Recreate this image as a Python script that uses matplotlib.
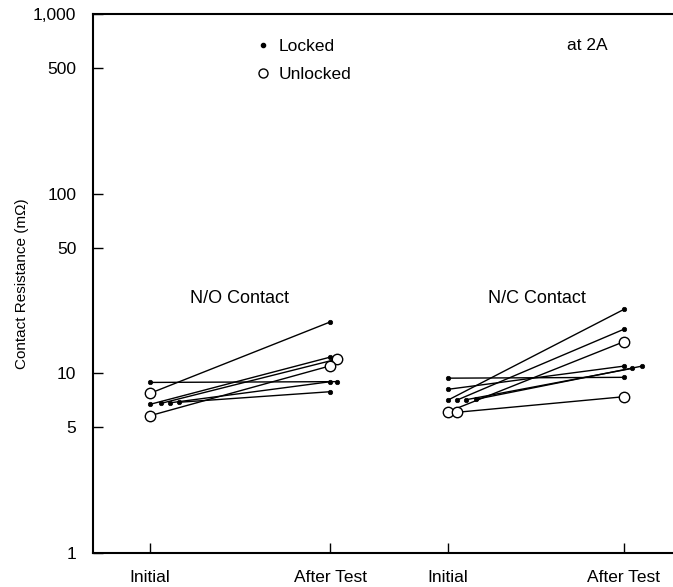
import matplotlib
matplotlib.use("Agg")
import matplotlib.pyplot as plt
from matplotlib.lines import Line2D
from matplotlib.ticker import FixedLocator, FixedFormatter, NullLocator

plt.rcParams['font.family'] = ['Liberation Sans', 'DejaVu Sans']

# x positions of the four columns (Initial / After Test for each contact)
col_pos = [0.0, 1.0, 1.656, 2.633]
col_labels = ['Initial', 'After Test', 'Initial', 'After Test']

# N/O contact: initial -> after test (mOhm), marker kind per end ('f' locked, 'o' unlocked)
no_initial = [8.9, 7.74, 6.72, 6.8, 6.85, 6.9, 5.81]
no_init_kind = ['f', 'o', 'f', 'f', 'f', 'f', 'o']
no_init_jit = [0.0, 0.0, 0.0, 0.06, 0.11, 0.16, 0.0]
no_after = [8.99, 19.3, 12.3, 12.0, 8.98, 7.9, 11.0]
no_after_kind = ['f', 'f', 'f', 'o', 'f', 'f', 'o']
no_after_jit = [0.04, 0.0, 0.0, 0.04, 0.0, 0.0, 0.0]

# N/C contact
nc_initial = [9.4, 8.15, 7.1, 7.1, 7.13, 7.17, 6.11, 6.07]
nc_init_kind = ['f', 'f', 'f', 'f', 'f', 'f', 'o', 'o']
nc_init_jit = [0.0, 0.0, 0.0, 0.05, 0.1, 0.155, 0.0, 0.05]
nc_after = [9.5, 10.97, 22.7, 17.6, 10.65, 10.97, 15.0, 7.41]
nc_after_kind = ['f', 'f', 'f', 'f', 'f', 'f', 'o', 'o']
nc_after_jit = [0.0, 0.0, 0.0, 0.0, 0.045, 0.1, 0.0, 0.0]

y_ticks = [1, 5, 10, 50, 100, 500, 1000]
y_labels = ['1', '5', '10', '50', '100', '500', '1,000']


def marker_style(kind):
    if kind == 'o':
        return dict(marker='o', markersize=7.5, markerfacecolor='white',
                    markeredgecolor='black', markeredgewidth=1.0)
    return dict(marker='o', markersize=3.2, markerfacecolor='black',
                markeredgecolor='black', markeredgewidth=0.5)


def draw_group(ax, x0, x1, y0, k0, j0, y1, k1, j1):
    for a, ja, b, jb in zip(y0, j0, y1, j1):
        ax.plot([x0 + ja, x1 + jb], [a, b], color='black', lw=1.0, zorder=2)
    for a, ka, ja in zip(y0, k0, j0):
        ax.plot([x0 + ja], [a], linestyle='none', zorder=3, **marker_style(ka))
    for b, kb, jb in zip(y1, k1, j1):
        ax.plot([x1 + jb], [b], linestyle='none', zorder=3, **marker_style(kb))


fig = plt.figure(figsize=(6.73, 5.87), dpi=100)
ax = fig.add_axes([93 / 673, 34 / 587, (700 - 93) / 673, 539 / 587])

draw_group(ax, col_pos[0], col_pos[1], no_initial, no_init_kind, no_init_jit,
           no_after, no_after_kind, no_after_jit)
draw_group(ax, col_pos[2], col_pos[3], nc_initial, nc_init_kind, nc_init_jit,
           nc_after, nc_after_kind, nc_after_jit)

ax.set_yscale('log')
ax.set_ylim(1, 1000)
ax.set_xlim(-57 / 180, 550 / 180)
ax.yaxis.set_major_locator(FixedLocator(y_ticks))
ax.yaxis.set_major_formatter(FixedFormatter(y_labels))
ax.yaxis.set_minor_locator(NullLocator())
ax.set_xticks(col_pos)
ax.set_xticklabels(col_labels)
ax.tick_params(direction='in', length=7, width=1.0, labelsize=12.5)
ax.tick_params(axis='y', pad=12)
ax.tick_params(axis='x', pad=12)
for s in ['left', 'bottom', 'top']:
    ax.spines[s].set_linewidth(1.5)
ax.spines['right'].set_visible(False)

ax.set_ylabel('Contact Resistance (m\u03a9)', fontsize=11)
ax.yaxis.set_label_coords(-0.105, 0.5)

ax.text(0.5, 23.5, 'N/O Contact', ha='center', va='bottom', fontsize=13)
ax.text(2.15, 23.5, 'N/C Contact', ha='center', va='bottom', fontsize=13)
ax.text(0.814, 0.941, 'at 2A', transform=ax.transAxes, ha='center', va='center', fontsize=12.5)

handles = [
    Line2D([], [], linestyle='none', marker='o', markersize=3, color='black'),
    Line2D([], [], linestyle='none', marker='o', markersize=6.5,
           markerfacecolor='white', markeredgecolor='black', markeredgewidth=1.0),
]
ax.legend(handles, ['Locked', 'Unlocked'], loc='upper left',
          bbox_to_anchor=(0.245, 0.982), frameon=False, fontsize=12.5,
          handlelength=0.6, handletextpad=0.6, labelspacing=0.7, borderaxespad=0.5)

fig.savefig('out.png', dpi=100)
